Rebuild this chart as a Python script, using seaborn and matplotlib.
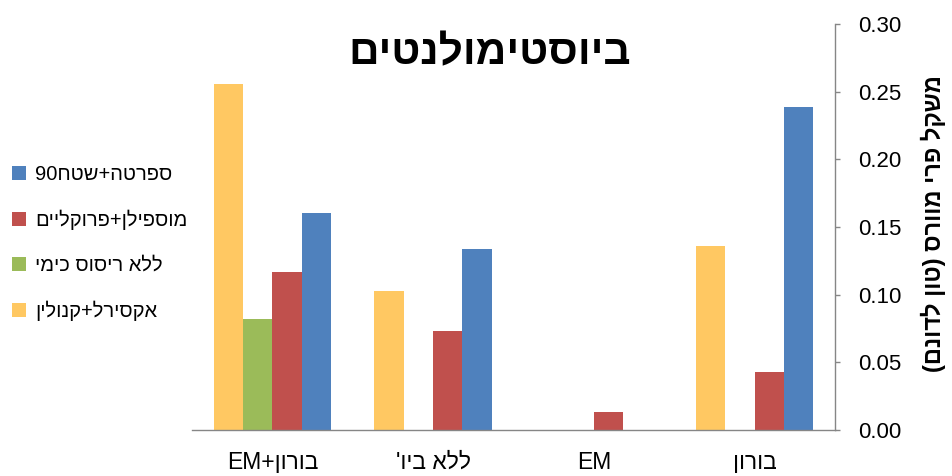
import re
import numpy as np
import pandas as pd
import matplotlib
matplotlib.use("Agg")
import matplotlib.pyplot as plt
from matplotlib.patches import Patch
from matplotlib.ticker import FixedLocator, FormatStrFormatter
import seaborn as sns

# Categories in reading order (right to left on the axis)
categories = ["בורון", "EM", "ללא ביו'", "בורון+EM"]
series = ["ספרטה+שטח90", "מוספילן+פרוקליים", "ללא ריסוס כימי", "אקסירל+קנולין"]
colors = ["#4F81BD", "#C0504D", "#9BBB59", "#FFC862"]

# Fruit weight (ton per dunam) for each series, per category
sparta = [0.239, np.nan, 0.134, 0.160]
mospilan = [0.043, 0.013, 0.073, 0.117]
no_spray = [np.nan, np.nan, np.nan, 0.082]
axirl = [0.136, np.nan, 0.103, 0.256]

title = "ביוסטימולנטים"
ylabel = "משקל פרי מוורס (טון לדונם)"
yticks = [0.00, 0.05, 0.10, 0.15, 0.20, 0.25, 0.30]


def visual(s):
    """Reorder a right-to-left string into left-to-right glyph order."""
    runs = re.findall(r"[A-Za-z0-9]+|[^A-Za-z0-9]+", s)
    out = []
    for r in reversed(runs):
        if re.match(r"[A-Za-z0-9]", r):
            out.append(r)
        else:
            out.append(r[::-1].translate(str.maketrans("()", ")(")))
    return "".join(out)


rows = []
for name, vals in zip(series, [sparta, mospilan, no_spray, axirl]):
    for cat, v in zip(categories, vals):
        rows.append({"category": cat, "series": name, "value": v})
df = pd.DataFrame(rows)

sns.set_style("white")
fam = ["Liberation Sans", "DejaVu Sans"]
plt.rcParams["font.family"] = fam
plt.rcParams["text.color"] = "black"

fig = plt.figure(figsize=(9.52, 4.76), dpi=100)
ax = fig.add_axes([192 / 952, 1 - 430 / 476, (835 - 192) / 952, (430 - 24) / 476])

sns.barplot(
    data=df, x="category", y="value", hue="series",
    order=categories, hue_order=series, palette=colors, saturation=1,
    width=0.73, gap=0, linewidth=0, errorbar=None, legend=False, ax=ax,
)

ax.set_xlim(3.5, -0.5)
ax.set_ylim(0, 0.30)
ax.set_xlabel("")
ax.set_ylabel("")

axis_gray = "#868686"
for side in ["top", "left"]:
    ax.spines[side].set_visible(False)
for side in ["bottom", "right"]:
    ax.spines[side].set_color(axis_gray)
    ax.spines[side].set_linewidth(1.0)

ax.yaxis.tick_right()
ax.yaxis.set_major_locator(FixedLocator(yticks))
ax.yaxis.set_major_formatter(FormatStrFormatter("%.2f"))
ax.tick_params(axis="y", which="major", direction="out", length=3.6, width=1,
               color=axis_gray, labelsize=16, pad=13, labelcolor="black")

ax.set_xticks(range(len(categories)))
ax.set_xticklabels([visual(c) for c in categories])
ax.xaxis.set_minor_locator(FixedLocator([-0.5, 0.5, 1.5, 2.5, 3.5]))
ax.tick_params(axis="x", which="major", length=0, labelsize=16.5, pad=15, labelcolor="black")
ax.tick_params(axis="x", which="minor", direction="out", length=4.5, width=1, color=axis_gray)
ax.grid(False)

fig.text(490 / 952, 1 - 53 / 476, visual(title), ha="center", va="center",
         fontsize=30.5, fontweight="bold", family=fam, color="black")
fig.text(933 / 952, 1 - 224 / 476, visual(ylabel), ha="center", va="center",
         rotation=90, fontsize=17, fontweight="bold", family=fam, color="black")

handles = [Patch(facecolor=c, edgecolor="none") for c in colors]
fig.legend(handles, [visual(s) for s in series], loc="center left",
           bbox_to_anchor=(12 / 952, 1 - 243 / 476), frameon=False,
           fontsize=14.5, handlelength=0.7, handleheight=0.7, handletextpad=0.45,
           labelspacing=1.27, borderpad=0, borderaxespad=0, labelcolor="black")

fig.savefig("out.png", dpi=100)
